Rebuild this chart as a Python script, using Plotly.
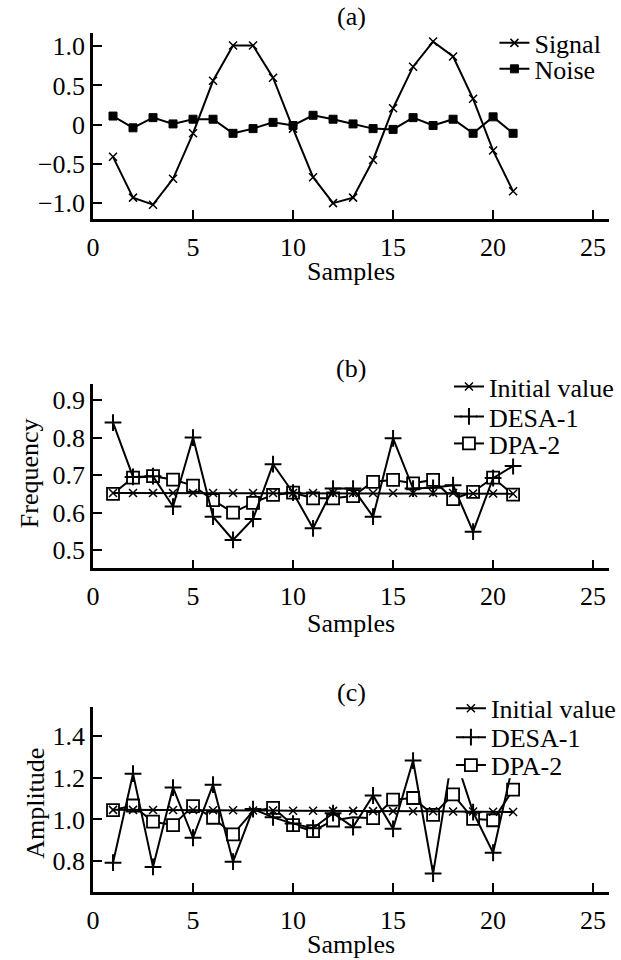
import plotly.graph_objects as go

# ---------------- data ----------------
samples = [1, 2, 3, 4, 5, 6, 7, 8, 9, 10, 11, 12, 13, 14, 15, 16, 17, 18, 19, 20, 21]

signal = [-0.41, -0.93, -1.02, -0.69, -0.11, 0.56, 1.01, 1.01, 0.60, -0.05, -0.67,
          -1.00, -0.93, -0.45, 0.21, 0.74, 1.06, 0.87, 0.33, -0.33, -0.85]
noise = [0.11, -0.04, 0.09, 0.01, 0.07, 0.07, -0.11, -0.05, 0.03, -0.01, 0.12,
         0.07, 0.01, -0.05, -0.06, 0.09, -0.01, 0.07, -0.11, 0.10, -0.11]

freq_initial = [0.652, 0.652, 0.652, 0.652, 0.652, 0.652, 0.652, 0.652, 0.652, 0.652, 0.652,
                0.652, 0.652, 0.652, 0.652, 0.652, 0.652, 0.652, 0.651, 0.651, 0.650]
freq_desa = [0.840, 0.695, 0.697, 0.616, 0.800, 0.589, 0.527, 0.583, 0.729, 0.653, 0.558,
             0.664, 0.664, 0.589, 0.798, 0.664, 0.666, 0.673, 0.549, 0.692, 0.724]
freq_dpa = [0.650, 0.693, 0.697, 0.688, 0.672, 0.633, 0.600, 0.626, 0.647, 0.653, 0.638,
            0.638, 0.644, 0.682, 0.687, 0.678, 0.687, 0.636, 0.655, 0.693, 0.648]

amp_initial = [1.046, 1.046, 1.045, 1.045, 1.045, 1.044, 1.044, 1.043, 1.043, 1.042, 1.042,
               1.041, 1.041, 1.040, 1.040, 1.039, 1.039, 1.038, 1.038, 1.037, 1.036]
amp_desa = [0.792, 1.220, 0.772, 1.153, 0.912, 1.167, 0.797, 1.050, 1.010, 0.980, 0.958,
            1.030, 0.963, 1.115, 0.955, 1.283, 0.740, 1.330, 1.035, 0.840, 1.270]
amp_dpa = [1.045, 1.067, 0.989, 0.973, 1.064, 1.008, 0.928, 1.040, 1.056, 0.973, 0.944,
           0.995, 1.010, 1.006, 1.095, 1.103, 1.022, 1.120, 1.003, 0.996, 1.143]
amp_dpa_unmarked = [8, 13]   # samples whose marker is not drawn in the original

x_ticks = [0, 5, 10, 15, 20, 25]
a_ticks = [1.0, 0.5, 0, -0.5, -1.0]
a_ticktext = ["1.0", "0.5", "0", "\u22120.5", "\u22121.0"]
b_ticks = [0.5, 0.6, 0.7, 0.8, 0.9]
b_ticktext = ["0.5", "0.6", "0.7", "0.8", "0.9"]
c_ticks = [0.8, 1.0, 1.2, 1.4]
c_ticktext = ["0.8", "1.0", "1.2", "1.4"]

# ---------------- styling ----------------
FONT = "Liberation Serif"
FS = 26
H = 960.0
W = 621.0


def py(px):
    return 1 - px / H


def pxx(px):
    return px / W


fig = go.Figure()


def add(x, y, name, symbol, size, mline, ax, legend, fill="black", showlegend=True,
        dash=None, mode="lines+markers"):
    ln = dict(color="black", width=2)
    if dash:
        ln["dash"] = dash
    fig.add_trace(go.Scatter(
        x=x, y=y, name=name, mode=mode,
        line=ln,
        marker=dict(symbol=symbol, size=size, color=fill,
                    line=dict(color="black", width=mline)),
        xaxis="x" + ax if ax != "1" else "x",
        yaxis="y" + ax if ax != "1" else "y",
        legend=legend, showlegend=showlegend,
    ))


# panel (a)
add(samples, signal, "Signal", "x-thin-open", 8, 1.5, "1", "legend")
add(samples, noise, "Noise", "square", 8, 1, "1", "legend2")

# panel (b)
add(samples, freq_dpa, "DPA-2", "square", 12, 1.8, "2", "legend5", fill="white")
add(samples, freq_desa, "DESA-1", "cross-thin-open", 12, 2, "2", "legend4", showlegend=False)
add([None], [None], "DESA-1", "cross-thin-open", 12, 2, "2", "legend4", dash="8px,14px")
add(samples, freq_initial, "Initial value", "x-thin-open", 8, 1.5, "2", "legend3")

# panel (c)
marked = [i for i, s in enumerate(samples) if s not in amp_dpa_unmarked]
add(samples, amp_dpa, "DPA-2", "square", 12, 1.8, "3", "legend8", fill="white",
    showlegend=False, mode="lines")
add([samples[i] for i in marked], [amp_dpa[i] for i in marked], "DPA-2", "square", 12, 1.8,
    "3", "legend8", fill="white", showlegend=False, mode="markers")
add([None], [None], "DPA-2", "square", 12, 1.8, "3", "legend8", fill="white")
add(samples, amp_desa, "DESA-1", "cross-thin-open", 12, 2, "3", "legend7", showlegend=False)
add([None], [None], "DESA-1", "cross-thin-open", 12, 2, "3", "legend7", dash="8px,14px")
add(samples, amp_initial, "Initial value", "x-thin-open", 8, 1.5, "3", "legend6")

xdom = [pxx(88), pxx(610)]


def xax(anchor):
    return dict(domain=xdom, range=[0, 25.8], tickvals=x_ticks, ticks="inside", ticklen=9,
                tickwidth=2, tickcolor="black", showline=True, linewidth=2.5, linecolor="black",
                showgrid=False, zeroline=False, anchor=anchor,
                tickfont=dict(family=FONT, size=FS, color="black"), ticklabelstandoff=3)


def yax(dom, rng, tv, tt, anchor):
    return dict(domain=dom, range=rng, tickvals=tv, ticktext=tt, ticks="inside", ticklen=9,
                tickwidth=2, tickcolor="black", showline=True, linewidth=2.5, linecolor="black",
                showgrid=False, zeroline=False, anchor=anchor,
                tickfont=dict(family=FONT, size=FS, color="black"), ticklabelstandoff=0)


def leg(xpx, ypx):
    return dict(x=pxx(xpx), y=py(ypx), xanchor="left", yanchor="middle",
                bgcolor="rgba(0,0,0,0)", borderwidth=0,
                font=dict(family=FONT, size=FS, color="black"),
                itemwidth=30, tracegroupgap=0)


fig.update_layout(
    width=621, height=960,
    margin=dict(l=0, r=0, t=0, b=0),
    paper_bgcolor="white", plot_bgcolor="white",
    font=dict(family=FONT, size=FS, color="black"),
    xaxis=xax("y"),
    yaxis=yax([py(218), py(32)], [-1.2, 1.17], a_ticks, a_ticktext, "x"),
    xaxis2=xax("y2"),
    yaxis2=yax([py(568), py(383)], [0.451, 0.944], b_ticks, b_ticktext, "x2"),
    xaxis3=xax("y3"),
    yaxis3=yax([py(892), py(707)], [0.651, 1.539], c_ticks, c_ticktext, "x3"),
    legend=leg(494, 42),
    legend2=leg(494, 68),
    legend3=leg(448, 386),
    legend4=leg(448, 416),
    legend5=leg(448, 443),
    legend6=leg(450, 708),
    legend7=leg(450, 737),
    legend8=leg(450, 765),
    showlegend=True,
)

# white backing behind the legends of (b) and (c) (the legend box hides data lines)
for (y0, y1) in [(372, 458), (696, 778)]:
    fig.add_shape(type="rect", xref="paper", yref="paper",
                  x0=pxx(438), x1=1.0, y0=py(y1), y1=py(y0),
                  fillcolor="white", line=dict(width=0), layer="above")

ann = [
    ("(a)", 349, 16, 0), ("(b)", 349, 368, 0), ("(c)", 349, 692, 0),
    ("Samples", 349, 271, 0), ("Samples", 349, 623, 0), ("Samples", 349, 944, 0),
    ("Frequency", 24, 473, -90), ("Amplitude", 29, 803, -90),
]
for text, xp, yp, ang in ann:
    fig.add_annotation(text=text, x=pxx(xp), y=py(yp), xref="paper", yref="paper",
                       xanchor="center", yanchor="middle", showarrow=False, textangle=ang,
                       font=dict(family=FONT, size=FS, color="black"))

fig.write_html("out.html",
               config={"displayModeBar": False},
               post_script="document.body.style.margin='0';document.body.style.overflow='hidden';")
